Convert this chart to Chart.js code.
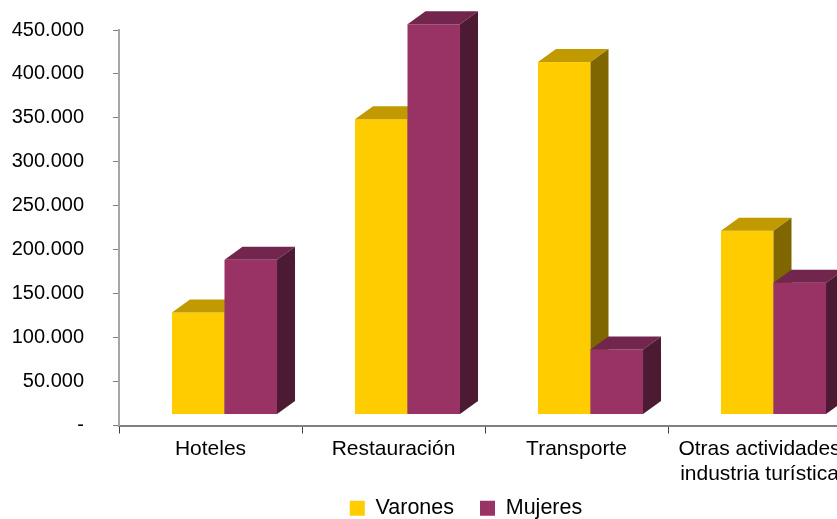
<!DOCTYPE html>
<html>
<head>
<meta charset="utf-8">
<script src="https://cdn.jsdelivr.net/npm/chart.js@4.4.0/dist/chart.umd.min.js"></script>
<style>
  html, body { margin: 0; padding: 0; background: #fff; overflow: hidden; }
  #wrap { width: 932px; height: 519px; }
</style>
</head>
<body>
<div id="wrap"><canvas id="myChart" width="932" height="519"></canvas></div>
<script>
// ======================= data ================
const categories = ['Hoteles', 'Restauración', 'Transporte', ['Otras actividades', 'industria turística']];
const varones = [116000, 336000, 401000, 209000];
const mujeres = [176000, 444000, 74000, 150000];
const seriesNames = ['Varones', 'Mujeres'];

// front / top / side colours of the fake 3d columns
const faces = [
  { front: '#FFCC00', top: '#C09A00', side: '#806600' },
  { front: '#993366', top: '#73264D', side: '#4D1A33' }
];

function fmt(v) {
  if (v === 0) return '-';
  return String(v).replace(/\B(?=(\d{3})+(?!\d))/g, '.');
}

// draws each bar as a box: front face, top face and right side
const bar3d = {
  id: 'bar3d',
  afterLayout(chart) {
    // let the two-line category label spill below the x scale box
    chart.scales.x.bottom += 40;
  },
  beforeDatasetsDraw(chart) {
    const ctx = chart.ctx;
    const dx = 18, dy = 13, shiftX = 14, lift = 11;
    chart.data.datasets.forEach((ds, i) => {
      const meta = chart.getDatasetMeta(i);
      const f = faces[i];
      meta.data.forEach(bar => {
        const p = bar.getProps(['x', 'y', 'base', 'width'], true);
        const l = p.x - p.width / 2 + shiftX;
        const r = p.x + p.width / 2 + shiftX;
        const t = p.y - lift;
        const b = p.base - lift;
        ctx.save();
        ctx.fillStyle = f.front;
        ctx.fillRect(l, t, r - l, b - t);
        ctx.fillStyle = f.top;
        ctx.beginPath();
        ctx.moveTo(l, t);
        ctx.lineTo(l + dx, t - dy);
        ctx.lineTo(r + dx, t - dy);
        ctx.lineTo(r, t);
        ctx.closePath();
        ctx.fill();
        ctx.fillStyle = f.side;
        ctx.beginPath();
        ctx.moveTo(r, t);
        ctx.lineTo(r + dx, t - dy);
        ctx.lineTo(r + dx, b - dy);
        ctx.lineTo(r, b);
        ctx.closePath();
        ctx.fill();
        ctx.restore();
      });
    });
    return false;
  }
};

const ctx = document.getElementById('myChart');

new Chart(ctx, {
  type: 'bar',
  data: {
    labels: categories,
    datasets: [
      { label: seriesNames[0], data: varones, backgroundColor: faces[0].front },
      { label: seriesNames[1], data: mujeres, backgroundColor: faces[1].front }
    ]
  },
  plugins: [bar3d],
  options: {
    responsive: false,
    animation: false,
    categoryPercentage: 0.574,
    barPercentage: 1,
    layout: { padding: { top: 30, right: 0, left: 0, bottom: -10 } },
    plugins: {
      tooltip: { enabled: false },
      legend: {
        position: 'bottom',
        labels: {
          boxWidth: 15,
          boxHeight: 15,
          padding: 26,
          color: '#000',
          font: { family: 'Liberation Sans, Arial, sans-serif', size: 21.5 }
        }
      }
    },
    scales: {
      x: {
        afterFit: s => { s.height = 46; s.paddingLeft = 0; s.paddingRight = 0; },
        border: { color: '#808080', width: 2 },
        grid: { display: true, drawOnChartArea: false, tickLength: 8, color: '#404040' },
        ticks: {
          color: '#000',
          padding: 3,
          maxRotation: 0,
          font: { family: 'Liberation Sans, Arial, sans-serif', size: 21 }
        }
      },
      y: {
        min: 0,
        max: 450000,
        afterFit: s => { s.width = 119; s.paddingTop = 0; s.paddingBottom = 0; },
        border: { color: '#a6a6a6', width: 2 },
        grid: { display: true, drawOnChartArea: false, tickLength: 6, color: '#808080' },
        ticks: {
          stepSize: 50000,
          padding: 29,
          color: '#000',
          callback: v => fmt(v),
          font: { family: 'Liberation Sans, Arial, sans-serif', size: 20 }
        }
      },
      // empty right-hand box: the plot runs past the window edge, the legend stays centred
      yRight: {
        position: 'right',
        min: 0,
        max: 450000,
        afterFit: s => { s.width = 81; s.paddingTop = 0; s.paddingBottom = 0; },
        border: { display: false },
        grid: { display: false },
        ticks: { display: false }
      }
    }
  }
});
</script>
</body>
</html>
